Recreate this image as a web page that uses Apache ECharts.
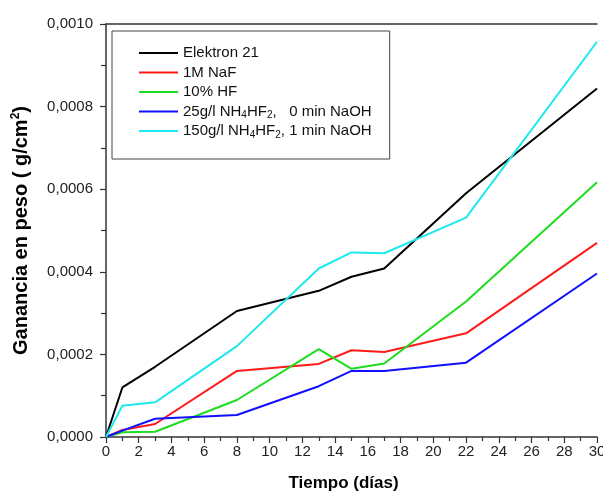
<!DOCTYPE html>
<html>
<head>
<meta charset="utf-8">
<script src="https://cdn.jsdelivr.net/npm/echarts@6/dist/echarts.min.js"></script>
<style>
  html, body { margin: 0; padding: 0; background: #fff; }
  #chart { width: 603px; height: 496px; }
</style>
</head>
<body>
<div id="chart"></div>
<script>
// days of measurement
var days = [0, 1, 3, 8, 13, 15, 17, 22, 30];

var seriesNames = ['Elektron 21', '1M NaF', '10% HF',
    '25g/l NH4HF2,   0 min NaOH', '150g/l NH4HF2, 1 min NaOH'];

// weight gain (g/cm2)
var elektron = [0, 0.000120, 0.000170, 0.000305, 0.000354, 0.000388, 0.000408, 0.000590, 0.000844];
var naf = [0, 0.000017, 0.0000315, 0.000160, 0.000177, 0.000210, 0.000206, 0.000251, 0.000470];
var hf = [0, 0.0000114, 0.0000128, 0.0000896, 0.000213, 0.000165, 0.000178, 0.000328, 0.000617];
var nh25 = [0, 0.0000153, 0.0000443, 0.0000533, 0.000123, 0.000160, 0.000160, 0.000180, 0.000396];
var nh150 = [0, 0.0000758, 0.000084, 0.000220, 0.000408, 0.000447, 0.000445, 0.000531, 0.000957];

var colors = ['#000000', '#ff1a1a', '#1edc1e', '#1010ff', '#1ee8ee'];
var allData = [elektron, naf, hf, nh25, nh150];

function pairs(ys) {
    return days.map(function (d, i) { return [d, ys[i]]; });
}

var font = 'Liberation Sans, Arial, sans-serif';

var chart = echarts.init(document.getElementById('chart'));

var option = {
    animation: false,
    backgroundColor: '#fff',
    grid: { left: 106, right: 6, top: 24, bottom: 59, outerBoundsMode: 'none' },
    legend: {
        orient: 'vertical',
        left: 112,
        top: 31,
        padding: [13, 18, 19, 27],
        borderColor: '#444',
        borderWidth: 1,
        icon: 'rect',
        itemWidth: 39,
        itemHeight: 2,
        itemGap: 1.5,
        data: seriesNames,
        formatter: function (name) {
            return name.replace('NH4HF2', 'NH{s|4}HF{s|2}');
        },
        textStyle: {
            fontFamily: font,
            fontSize: 15,
            color: '#111',
            lineHeight: 18,
            rich: {
                s: { fontFamily: font, fontSize: 10, lineHeight: 10, verticalAlign: 'bottom', color: '#111' }
            }
        }
    },
    xAxis: [{
        type: 'value',
        min: 0,
        max: 30,
        interval: 2,
        name: 'Tiempo (días)',
        nameLocation: 'middle',
        nameGap: 38,
        nameTextStyle: {
            fontFamily: font, fontSize: 17, fontWeight: 'bold', color: '#000',
            padding: [0, 16, 0, 0]
        },
        axisLine: { lineStyle: { color: '#333', width: 1.5 } },
        axisTick: { length: 6, lineStyle: { color: '#333', width: 1.2 } },
        minorTick: { show: true, splitNumber: 2, length: 4, lineStyle: { color: '#333', width: 1.2 } },
        axisLabel: { fontFamily: font, fontSize: 15, color: '#222', margin: 7 },
        splitLine: { show: false }
    }, {
        type: 'value',
        position: 'top',
        min: 0,
        max: 30,
        axisLine: { show: true, lineStyle: { color: '#333', width: 1.5 } },
        axisTick: { show: false },
        axisLabel: { show: false },
        splitLine: { show: false }
    }],
    yAxis: {
        type: 'value',
        min: 0,
        max: 0.001,
        interval: 0.0002,
        name: 'Ganancia en peso ( g/cm{p|2})',
        nameLocation: 'middle',
        nameGap: 74,
        nameTextStyle: {
            fontFamily: font, fontSize: 20, fontWeight: 'bold', color: '#000',
            lineHeight: 22,
            rich: {
                p: { fontFamily: font, fontSize: 12, fontWeight: 'bold', lineHeight: 12, verticalAlign: 'top', color: '#000' }
            }
        },
        axisLine: { show: true, lineStyle: { color: '#333', width: 1.5 } },
        axisTick: { length: 6, lineStyle: { color: '#333', width: 1.2 } },
        minorTick: { show: true, splitNumber: 2, length: 5, lineStyle: { color: '#333', width: 1.2 } },
        axisLabel: {
            fontFamily: font, fontSize: 15, color: '#222', margin: 13,
            formatter: function (v) { return v.toFixed(4).replace('.', ','); }
        },
        splitLine: { show: false }
    },
    series: seriesNames.map(function (name, i) {
        return {
            name: name,
            type: 'line',
            data: pairs(allData[i]),
            showSymbol: false,
            symbol: 'none',
            color: colors[i],
            lineStyle: { color: colors[i], width: 2 }
        };
    })
};

chart.setOption(option);
</script>
</body>
</html>
